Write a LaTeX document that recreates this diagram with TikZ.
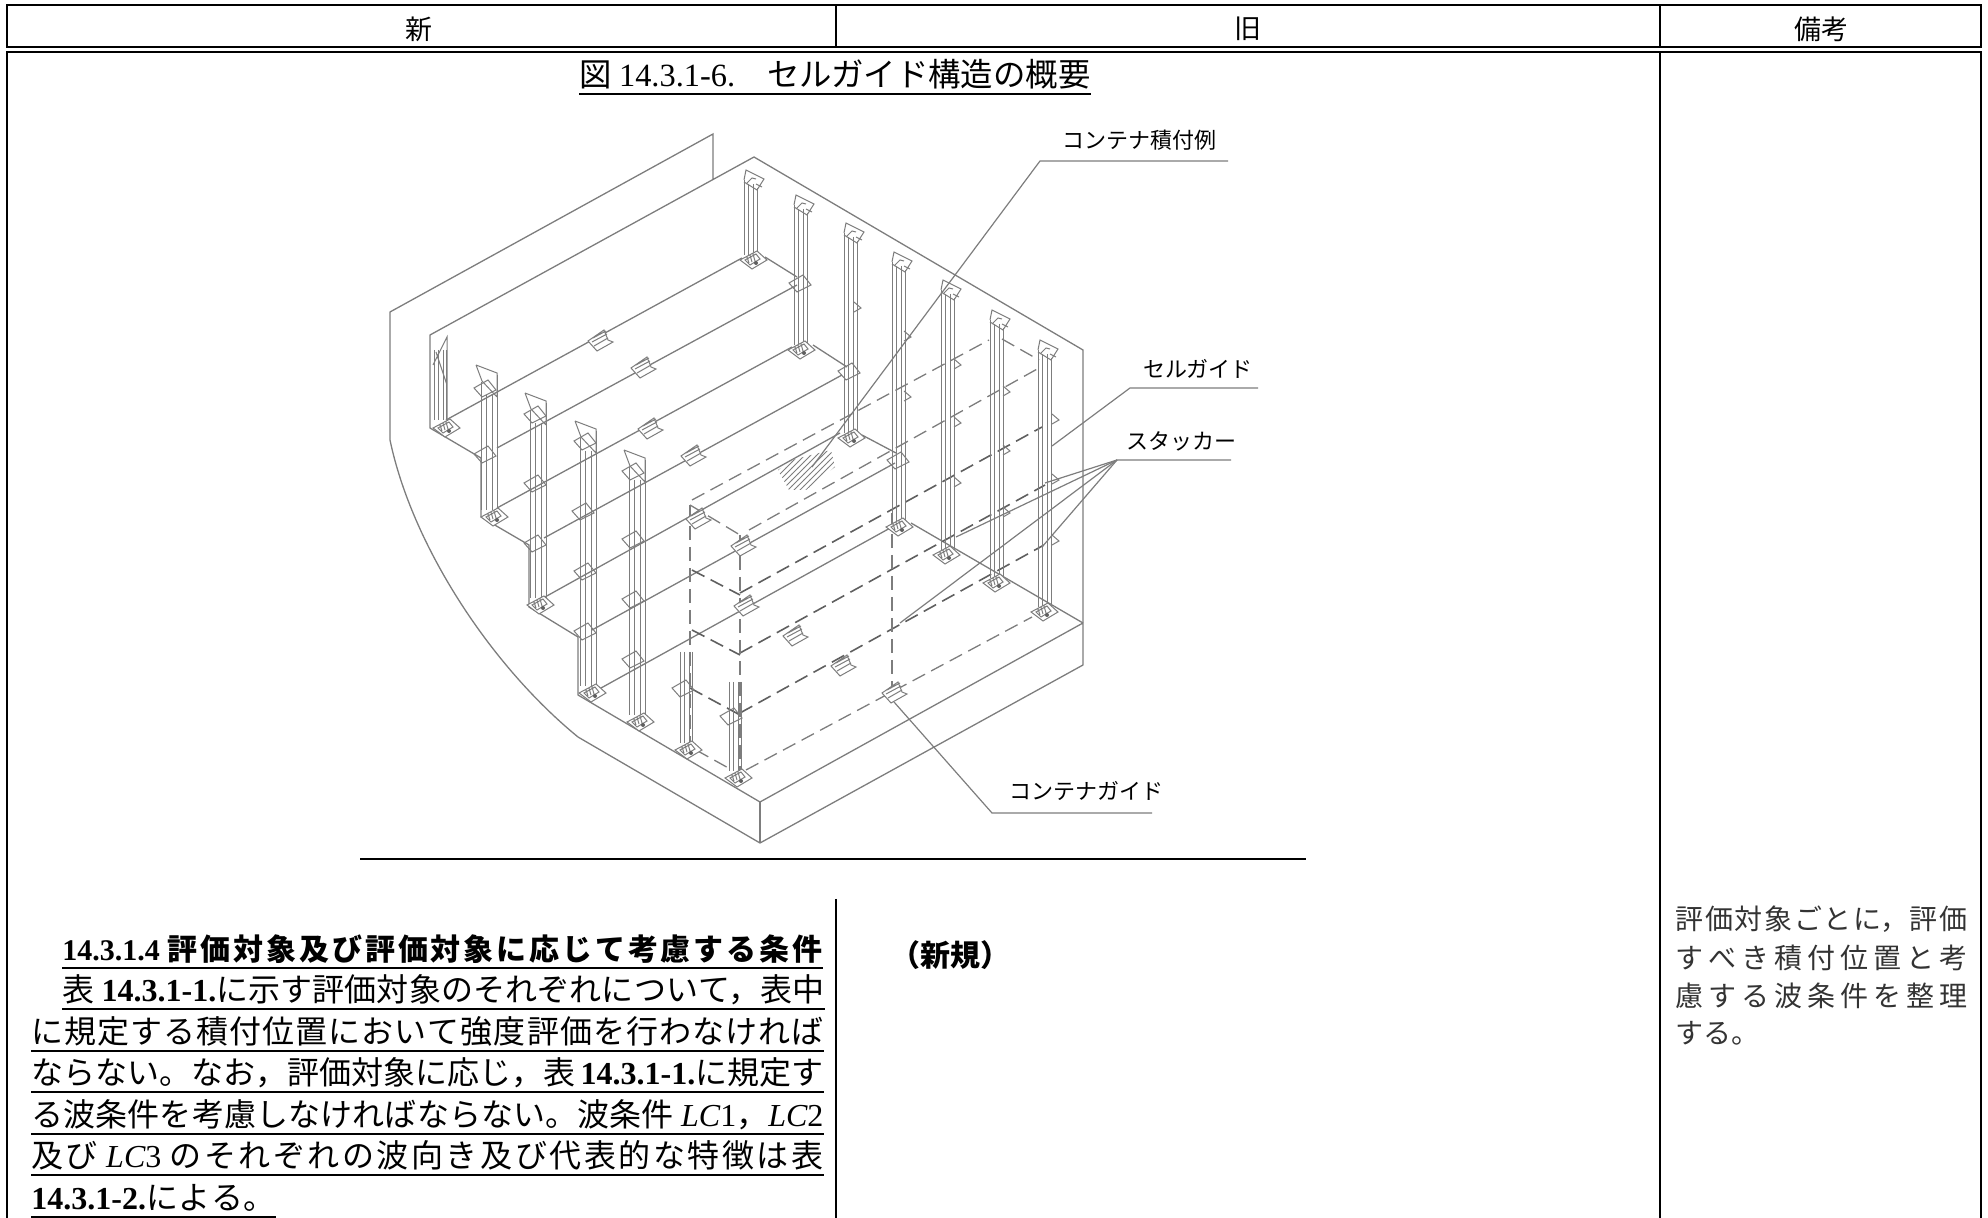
\documentclass[tikz,border=0pt]{standalone}
\usepackage{fontspec}
\usepackage{xcolor}
\setmainfont{Noto Sans CJK JP}
\newfontfamily\latin{Liberation Serif}
\XeTeXlinebreaklocale "ja"
\XeTeXlinebreakskip=0pt plus 4pt
\usetikzlibrary{patterns}
\definecolor{dwg}{RGB}{125,125,125}
\definecolor{dwgdark}{RGB}{95,95,95}
\newcommand{\ltn}[1]{{\latin #1}}
\newcommand{\ltb}[1]{{\latin\bfseries #1}}
\newcommand{\lti}[1]{{\latin\itshape #1}}
\tikzstyle{rule} = [line width=1.4pt, draw=black]
\tikzstyle{wall} = [line width=0.65pt, draw=dwg]
\tikzstyle{fine} = [line width=0.5pt, draw=dwg]
\tikzstyle{stackline} = [line width=0.65pt, draw=dwg, dash pattern=on 7pt off 3.5pt]
\tikzstyle{stackdark} = [line width=0.8pt, draw=dwgdark, dash pattern=on 7pt off 3.5pt]
\tikzstyle{leader} = [line width=0.6pt, draw=dwg]
\tikzstyle{uline} = [line width=0.9pt, draw=black]
\tikzstyle{head} = [inner sep=0pt, font=\fontsize{13.5}{16}\selectfont]
\tikzstyle{callout} = [inner sep=0pt, font=\fontsize{11}{13}\selectfont]
\tikzstyle{bodyline} = [inner sep=0pt, anchor=south west, align=justify,
    text height=13pt, text depth=3.5pt, font=\fontsize{16}{20}\selectfont,
    execute at begin node={\parfillskip=0pt}]
\tikzstyle{noteline} = [inner sep=0pt, anchor=west, align=justify, text width=146pt,
    font=\fontsize{14}{18}\selectfont, text=black!80,
    execute at begin node={\parfillskip=0pt}]
% parts of the drawing
\newcommand{\rearpost}[3]{
    \draw [fine] (#1-7,#2+10) -- (#1-7,#3);
    \draw [fine] (#1-3,#2+14) -- (#1-3,#3);
    \draw [fine] (#1+2,#2+14) -- (#1+2,#3);
    \draw [fine] (#1+6,#2+18) -- (#1+6,#3);
    \draw [fine, shift={(#1,#2)}] (-7,10) -- (-5,0) -- (13,9) -- (6,20) -- (-7,12)
        (-5,14) -- (1,8) -- (5,9) (5,14) -- (11,17);
}
\newcommand{\sidepost}[3]{
    \draw [fine] (#1-8,#2+15) -- (#1-8,#3);
    \draw [fine] (#1-3,#2+28) -- (#1-3,#3);
    \draw [fine] (#1+3,#2+28) -- (#1+3,#3);
    \draw [fine] (#1+8,#2+8) -- (#1+8,#3);
    \draw [fine, shift={(#1,#2)}] (-13,-2) -- (8,6) -- (8,30) (-13,-2) -- (-7,14) -- (8,30);
}
\newcommand{\stump}[3]{
    \draw [fine] (#1-6,#2) -- (#1-6,#3);
    \draw [fine] (#1-2,#2) -- (#1-2,#3);
    \draw [fine] (#1+3,#2) -- (#1+3,#3);
    \draw [fine] (#1+6,#2) -- (#1+6,#3);
}
\newcommand{\baseplate}[2]{
    \draw [fine, fill=white, shift={(#1,#2)}] (-13,0) -- (4,-9) -- (14,0) -- (-1,9) -- cycle
        (-8,0) -- (3,-6) -- (7,-1) -- (-3,5) -- cycle
        (-6,-3) -- (-4,3) (-3,-5) -- (-1,2) (0,-6) -- (2,1);
    \fill [dwgdark] (#1+3,#2+3) circle (2);
}
\newcommand{\bracket}[2]{
    \draw [fine, shift={(#1,#2)}] (-11,1) -- (3,-7) -- (11,3) -- (-3,10) -- cycle;
}
\newcommand{\tabmark}[2]{
    \draw [fine, shift={(#1,#2)}] (-3,-6) -- (4,0) -- (-3,4);
}
\newcommand{\contguide}[2]{
    \draw [fine, fill=white, shift={(#1,#2)}] (-11,1) -- (5,-10) -- (9,0) -- (14,2) -- (-2,11) -- cycle
        (-6,-2) -- (7,-9) (-7,2) -- (8,-6) (-5,6) -- (9,-2);
}
\begin{document}
\begin{tikzpicture}[x=0.5pt, y=-0.5pt]
    \useasboundingbox (0,0) rectangle (1988,1218);

    % Table
    \draw [rule] (7,1218) -- (7,52) -- (1981,52) -- (1981,1218);
    \draw [rule] (7,47) -- (7,5) -- (1981,5) -- (1981,47) -- cycle;
    \draw [rule] (836,5) -- (836,47);
    \draw [rule] (1660,5) -- (1660,47);
    \draw [rule] (1660,52) -- (1660,1218);
    \draw [rule] (836,899) -- (836,1218);
    \draw [rule] (360,859) -- (1306,859);

    % Header
    \node (new) [head] at (419,29) {新};
    \node (old) [head] at (1248,29) {旧};
    \node (memo) [head] at (1821,29) {備考};

    % Figure title
    \node (title) [inner sep=0pt, text height=13pt, text depth=3.5pt,
        font=\fontsize{16.2}{20}\selectfont] at (835,77) {図 \ltn{14.3.1-6.}　セルガイド構造の概要};
    \draw [uline] (title.south west) -- (title.south east);

    % Hull and stepped floor
    \draw [wall] (713,180) -- (713,134) -- (390,312) -- (390,440)
        .. controls (412,545) and (490,665) .. (578,737) -- (760,843) -- (1083,665) -- (1083,350)
        -- (754,157) -- (430,335) -- (430,428) -- (481,458) -- (481,517) -- (529,545) -- (529,607)
        -- (578,637) -- (578,695) -- (760,802) -- (1083,623);
    \draw [wall] (760,802) -- (760,843);
    \draw [wall] (765,257) -- (797,277);
    \draw [wall] (813,345) -- (847,367);
    \draw [wall] (862,435) -- (896,453);
    \draw [wall] (911,523) -- (1083,623);

    % Rows of the floor
    \draw [wall] (446,420) -- (742,258);
    \draw [wall] (497,448) -- (797,285);
    \draw [wall] (497,508) -- (792,347);
    \draw [wall] (544,538) -- (842,375);
    \draw [wall] (545,597) -- (840,433);
    \draw [wall] (592,630) -- (895,463);
    \draw [wall] (592,693) -- (892,527);

    % Containers
    \draw [stackline] (692,500) -- (989,340);
    \draw [stackline] (749,530) -- (1039,368);
    \draw [stackdark] (740,593) -- (1042,427);
    \draw [stackdark] (740,653) -- (1045,485);
    \draw [stackdark] (740,713) -- (1044,545);
    \draw [stackline] (746,770) -- (1032,617);
    \draw [stackline] (690,505) -- (740,535);
    \draw [stackline] (1002,339) -- (1039,360);
    \draw [stackdark] (692,570) -- (740,595);
    \draw [stackdark] (692,630) -- (740,655);
    \draw [stackdark] (690,688) -- (740,715);
    \draw [stackline] (696,750) -- (732,770);
    \draw [stackline] (690,505) -- (690,750);
    \draw [stackline] (740,535) -- (740,773);
    \draw [stackline] (892,513) -- (892,690);
    \draw [pattern=north east lines, pattern color=dwg, draw=none]
        (778,470) -- (792,460) -- (831,450) -- (835,467) -- (806,490) -- (789,490) -- cycle;

    % Posts on the rear side
    \rearpost{751}{170}{255}
    \rearpost{801}{195}{345}
    \rearpost{851}{223}{433}
    \rearpost{899}{252}{522}
    \rearpost{948}{280}{550}
    \rearpost{997}{310}{578}
    \rearpost{1045}{340}{607}
    \draw [line width=1.2pt, draw=white, dash pattern=on 1.5pt off 9pt] (1045,375) -- (1045,600);
    \baseplate{753}{260}
    \baseplate{801}{350}
    \baseplate{851}{438}
    \baseplate{899}{527}
    \baseplate{946}{555}
    \baseplate{996}{583}
    \baseplate{1044}{612}
    \bracket{800}{282}
    \bracket{849}{370}
    \bracket{898}{459}
    \tabmark{857}{308}
    \tabmark{907}{337}
    \tabmark{907}{397}
    \tabmark{957}{365}
    \tabmark{957}{423}
    \tabmark{957}{483}
    \tabmark{1006}{392}
    \tabmark{1006}{451}
    \tabmark{1006}{513}
    \tabmark{1055}{420}
    \tabmark{1055}{480}
    \tabmark{1055}{541}

    % Posts on the stepped side
    \stump{440}{350}{420}
    \draw [fine] (433,365) -- (447,337) -- (447,420) (436,352) -- (447,385);
    \sidepost{489}{367}{510}
    \sidepost{538}{395}{598}
    \sidepost{588}{423}{686}
    \sidepost{637}{452}{715}
    \stump{686}{652}{743}
    \stump{735}{682}{771}
    \baseplate{446}{428}
    \baseplate{494}{517}
    \baseplate{540}{605}
    \baseplate{592}{693}
    \baseplate{640}{722}
    \baseplate{688}{750}
    \baseplate{738}{778}
    \bracket{485}{387}
    \bracket{485}{453}
    \bracket{535}{413}
    \bracket{535}{482}
    \bracket{535}{542}
    \bracket{585}{440}
    \bracket{583}{510}
    \bracket{585}{570}
    \bracket{585}{630}
    \bracket{633}{470}
    \bracket{633}{538}
    \bracket{633}{598}
    \bracket{633}{658}
    \bracket{683}{687}
    \bracket{731}{715}

    % Container guides
    \contguide{599}{340}
    \contguide{642}{367}
    \contguide{649}{428}
    \contguide{692}{455}
    \contguide{697}{518}
    \contguide{742}{545}
    \contguide{745}{605}
    \contguide{794}{635}
    \contguide{842}{665}
    \contguide{893}{692}

    % Callouts
    \node (stow) [callout] at (1139,140) {コンテナ積付例};
    \node (cell) [callout] at (1198,369) {セルガイド};
    \node (stack) [callout] at (1181,441) {スタッカー};
    \node (guide) [callout] at (1086,791) {コンテナガイド};

    \coordinate (stowend) at (1228,161);
    \coordinate (stowknee) at (1040,161);
    \coordinate (stowtip) at (812,467);
    \coordinate (cellend) at (1258,388);
    \coordinate (cellknee) at (1130,388);
    \coordinate (celltip) at (1052,446);
    \coordinate (stackend) at (1231,460);
    \coordinate (stackknee) at (1117,460);
    \coordinate (stacka) at (1045,483);
    \coordinate (stackb) at (956,537);
    \coordinate (stackc) at (1042,547);
    \coordinate (stackd) at (900,623);
    \coordinate (guideend) at (1152,813);
    \coordinate (guideknee) at (992,813);
    \coordinate (guidetip) at (894,702);

    \draw [leader] (stowend) -- (stowknee) -- (stowtip);
    \draw [leader] (cellend) -- (cellknee) -- (celltip);
    \draw [leader] (stackend) -- (stackknee) -- (stacka);
    \draw [leader] (stackknee) -- (stackb);
    \draw [leader] (stackknee) -- (stackc);
    \draw [leader] (stackknee) -- (stackd);
    \draw [leader] (guideend) -- (guideknee) -- (guidetip);

    % New text
    \node (l1) [bodyline, text width=380pt, font=\fontsize{15}{20}\bfseries] at (62,968)
        {\ltb{14.3.1.4} 評価対象及び評価対象に応じて考慮する条件};
    \node (l2) [bodyline, text width=381pt] at (62,1009)
        {表 \ltb{14.3.1-1.}に示す評価対象のそれぞれについて，表中};
    \node (l3) [bodyline, text width=396pt] at (31,1051)
        {に規定する積付位置において強度評価を行わなければ};
    \node (l4) [bodyline, text width=396pt] at (31,1092)
        {ならない。なお，評価対象に応じ，表 \ltb{14.3.1-1.}に規定す};
    \node (l5) [bodyline, text width=396pt] at (31,1134)
        {る波条件を考慮しなければならない。波条件 \lti{LC}\ltn{1}，\lti{LC}\ltn{2}};
    \node (l6) [bodyline, text width=396pt] at (31,1175)
        {及び \lti{LC}\ltn{3} のそれぞれの波向き及び代表的な特徴は表};
    \node (l7) [bodyline, text width=122pt] at (31,1217)
        {\ltb{14.3.1-2.}による。};

    % Underlines
    \draw [uline] (l1.south west) -- (l1.south east);
    \draw [uline] (l2.south west) -- (l2.south east);
    \draw [uline] (l3.south west) -- (l3.south east);
    \draw [uline] (l4.south west) -- (l4.south east);
    \draw [uline] (l5.south west) -- (l5.south east);
    \draw [uline] (l6.south west) -- (l6.south east);
    \draw [uline] (l7.south west) -- (l7.south east);

    \node (added) [inner sep=0pt, font=\fontsize{15}{18}\bfseries] at (950,955) {（新規）};

    % Remarks
    \node (r1) [noteline] at (1675,919) {評価対象ごとに，評価};
    \node (r2) [noteline] at (1675,958) {すべき積付位置と考};
    \node (r3) [noteline] at (1675,996) {慮する波条件を整理};
    \node (r4) [noteline, text width=42pt] at (1675,1033) {する。};
\end{tikzpicture}
\end{document}
